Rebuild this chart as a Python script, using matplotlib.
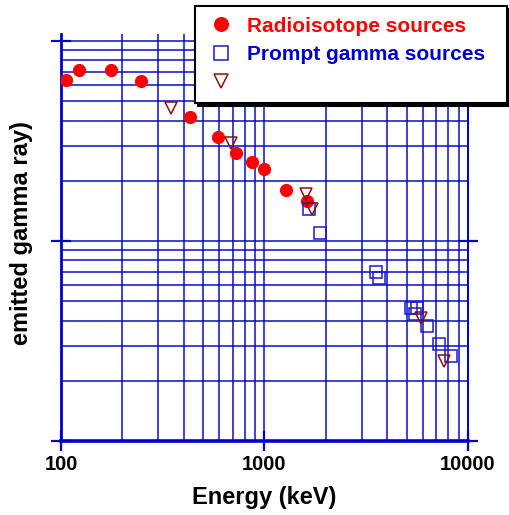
import numpy as np
import matplotlib
matplotlib.use("Agg")
import matplotlib.pyplot as plt
from matplotlib.ticker import LogLocator, NullFormatter, FixedFormatter, FixedLocator

plt.rcParams['font.family'] = ['Liberation Sans', 'DejaVu Sans']
plt.rcParams['font.weight'] = 'bold'

# radioisotope sources (red filled circles)
iso_energy = [106, 123, 176, 247, 430, 591, 724, 868, 994, 1276, 1617]
iso_value = [0.0638, 0.0716, 0.0716, 0.063, 0.0417, 0.0331, 0.0275, 0.0248, 0.0229, 0.018, 0.0158]

# prompt gamma sources (blue open squares)
pg_energy = [1655, 1874, 3532, 3653, 5248, 5490, 5613, 6288, 7202, 8250]
pg_value = [0.01445, 0.01096, 0.0070, 0.00653, 0.00462, 0.00431, 0.00462, 0.00376, 0.00305, 0.00266]

# third, unlabeled series (brown open triangles)
tri_energy = [347, 684, 1600, 1712, 5875, 7621]
tri_value = [0.0462, 0.0309, 0.0172, 0.01445, 0.00412, 0.00251]

xticks = [100, 1000, 10000]
xtick_labels = ['100', '1000', '10000']
legend_labels = ['Radioisotope sources', 'Prompt gamma sources', '']

blue = '#0000cc'

fig = plt.figure(figsize=(5.1, 5.15), dpi=100)
ax = fig.add_axes([0.1196, 0.1437, 0.798, 0.7903])

ax.set_xscale('log')
ax.set_yscale('log')
ax.set_xlim(100, 10000)
ax.set_ylim(0.001, 0.1084)

ax.xaxis.set_major_locator(FixedLocator(xticks))
ax.xaxis.set_major_formatter(FixedFormatter(xtick_labels))
ax.xaxis.set_minor_locator(LogLocator(base=10, subs=np.arange(2, 10)))
ax.xaxis.set_minor_formatter(NullFormatter())
ax.yaxis.set_major_locator(LogLocator(base=10, numticks=10))
ax.yaxis.set_minor_locator(LogLocator(base=10, subs=np.arange(2, 10), numticks=20))
ax.yaxis.set_major_formatter(NullFormatter())
ax.yaxis.set_minor_formatter(NullFormatter())

ax.grid(True, which='both', color=blue, lw=1.4, alpha=0.75, zorder=0)
ax.set_axisbelow(True)

ax.tick_params(which='major', direction='inout', length=14, width=1.6, color=blue,
               labelsize=14.5, pad=3, right=True)
ax.tick_params(which='minor', length=0)
for lab in ax.get_xticklabels():
    lab.set_fontweight('bold')

ax.spines['top'].set_visible(False)
for s in ['left', 'bottom', 'right']:
    ax.spines[s].set_color(blue)
ax.spines['left'].set_linewidth(2)
ax.spines['bottom'].set_linewidth(2.6)
ax.spines['right'].set_linewidth(1.4)

h1, = ax.plot(iso_energy, iso_value, 'o', color='#ff0000', ms=8.5, mec='#ff0000', zorder=3)
h2, = ax.plot(pg_energy, pg_value, 's', mfc='none', mec='#1a1acc', ms=8.5, mew=1.1, zorder=4)
h3, = ax.plot(tri_energy, tri_value, 'v', mfc='none', mec='#8b1010', ms=8.5, mew=1.1, zorder=5)

ax.set_xlabel('Energy (keV)', fontsize=17, fontweight='bold', labelpad=9)
fig.text(0.043, 0.548, 'emitted gamma ray)', rotation=90, fontsize=17,
         fontweight='bold', ha='center', va='center')

leg = fig.legend([h1, h2, h3], legend_labels, loc='upper left', mode='expand',
                 bbox_to_anchor=(0.382, 0.70, 0.612, 0.288), bbox_transform=fig.transFigure,
                 fontsize=15, numpoints=1, markerscale=1.15, handlelength=1.5,
                 handletextpad=0.5, borderpad=0.5, labelspacing=0.45,
                 fancybox=False, framealpha=1, edgecolor='black',
                 shadow={'color': 'black', 'alpha': 1}, borderaxespad=0)
leg.get_frame().set_linewidth(1.5)
for txt, col in zip(leg.get_texts(), ['#ff0000', blue, 'black']):
    txt.set_color(col)
    txt.set_fontweight('bold')

fig.savefig('out.png', dpi=100)
